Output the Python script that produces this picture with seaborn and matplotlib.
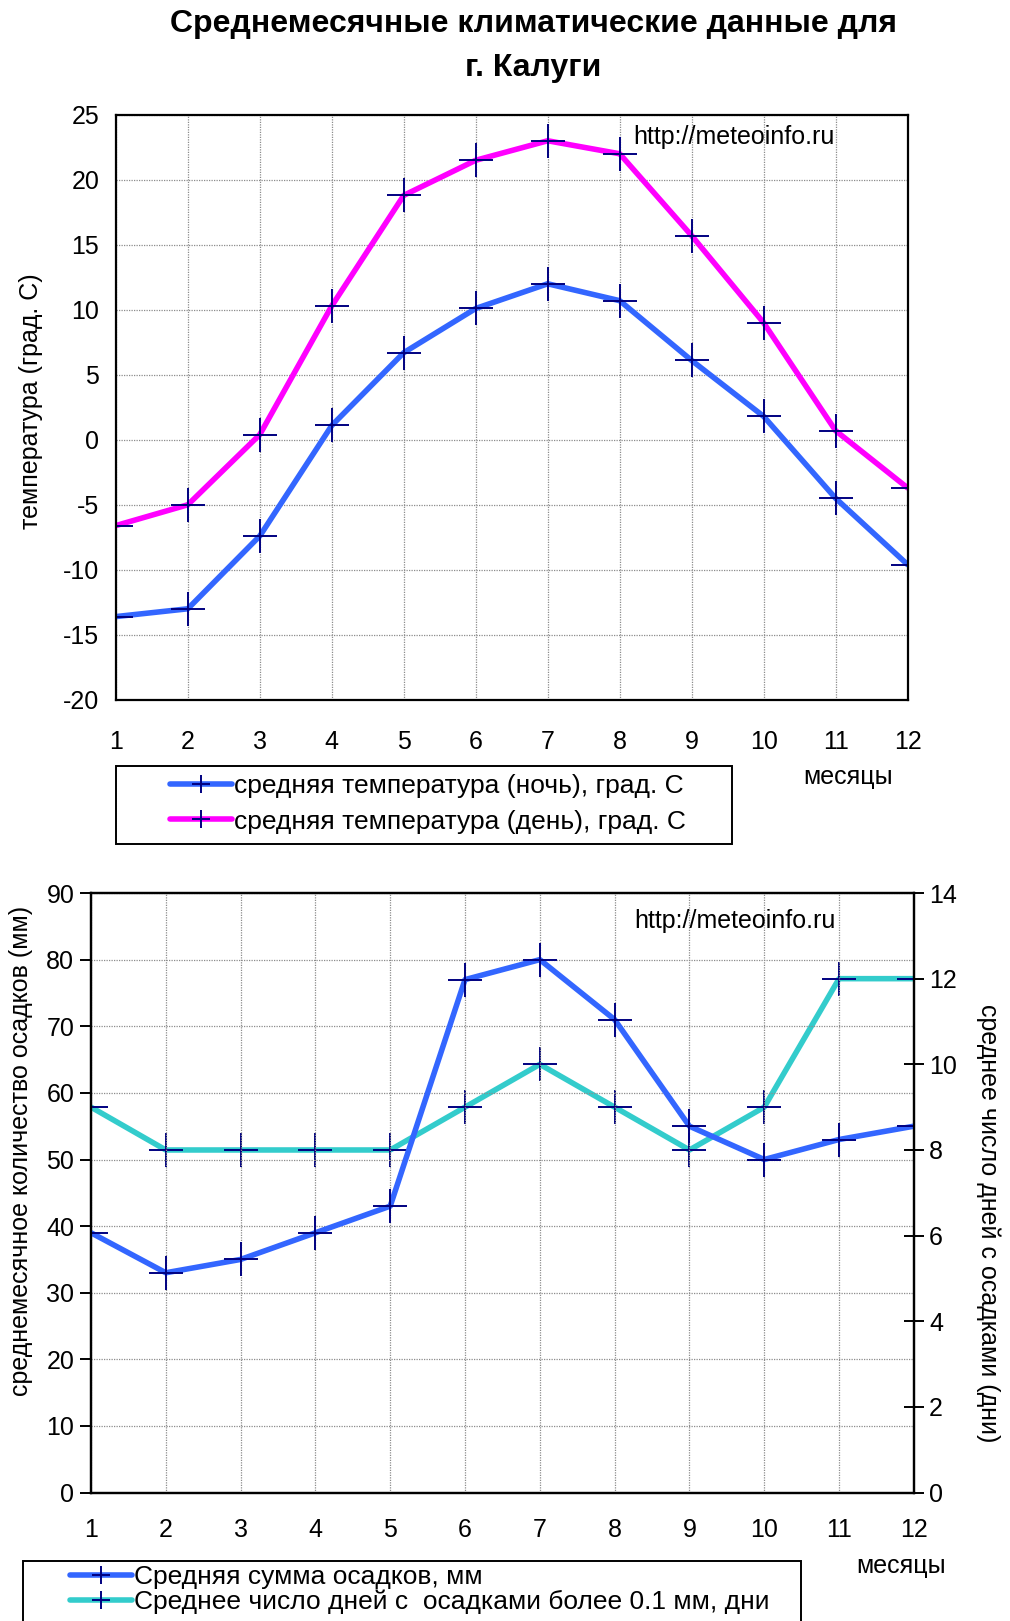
import matplotlib
matplotlib.use("Agg")
import matplotlib.pyplot as plt
from matplotlib.patches import Rectangle
import seaborn as sns
import pandas as pd

# Monthly climate data for Kaluga
months = list(range(1, 13))
temp_night = [-13.6, -13.0, -7.4, 1.1, 6.7, 10.1, 12.0, 10.7, 6.1, 1.8, -4.5, -9.6]
temp_day = [-6.6, -5.0, 0.4, 10.3, 18.8, 21.5, 23.0, 22.0, 15.7, 9.0, 0.7, -3.7]
precip_mm = [39, 33, 35, 39, 43, 77, 80, 71, 55, 50, 53, 55]
precip_days = [9, 8, 8, 8, 8, 9, 10, 9, 8, 9, 12, 12]

temp_ticks = list(range(-20, 26, 5))
precip_ticks = list(range(0, 91, 10))
days_ticks = list(range(0, 15, 2))

title = "Среднемесячные климатические данные для\nг. Калуги"
lbl_night = "средняя температура (ночь), град. С"
lbl_day = "средняя температура (день), град. С"
lbl_mm = "Средняя сумма осадков, мм"
lbl_days = "Среднее число дней с  осадками более 0.1 мм, дни"

sns.set_style("white")
plt.rcParams["font.family"] = ["Liberation Sans", "DejaVu Sans"]
plt.rcParams["axes.linewidth"] = 1.6
plt.rcParams["axes.unicode_minus"] = False
for key in ("text.color", "axes.labelcolor", "xtick.color", "ytick.color",
            "axes.edgecolor"):
    plt.rcParams[key] = "black"

BLUE = "#3366FF"
MAGENTA = "#FF00FF"
TURQ = "#33CCCC"
NAVY = "#000080"
GRID = dict(color="#8c8c8c", linestyle=(0, (1, 1)), linewidth=0.9)
LINE = dict(marker="+", markersize=24, markeredgecolor=NAVY, markeredgewidth=1.4,
            linewidth=4.0)
TICKFS = 18
LEGFS = 19

df = pd.DataFrame({"month": months, "night": temp_night, "day": temp_day,
                   "mm": precip_mm, "days": precip_days})

fig = plt.figure(figsize=(10.10, 16.21), dpi=100)
fig.text(0.528, 0.9945, title, ha="center", va="top", fontsize=23,
         fontweight="bold", linespacing=1.6)


def fig_box(x0, y0, x1, y1):
    """Legend frame given in figure pixel coordinates (origin top-left)."""
    W, H = 1010, 1621
    fig.add_artist(Rectangle((x0 / W, 1 - y1 / H), (x1 - x0) / W, (y1 - y0) / H,
                             transform=fig.transFigure, fill=False,
                             edgecolor="black", linewidth=1.4))


# ---- temperature panel ----
ax1 = fig.add_axes([0.1147, 0.5683, 0.7839, 0.3609])
sns.lineplot(data=df, x="month", y="night", ax=ax1, color=BLUE, **LINE)
sns.lineplot(data=df, x="month", y="day", ax=ax1, color=MAGENTA, **LINE)
ax1.set_xlim(1, 12)
ax1.set_ylim(-20, 25)
ax1.set_xticks(months)
ax1.set_yticks(temp_ticks)
ax1.grid(True, **GRID)
ax1.set_axisbelow(True)
ax1.tick_params(axis="both", direction="out", length=8, width=1.4,
                labelsize=TICKFS)
ax1.tick_params(axis="x", pad=14)
ax1.tick_params(axis="y", pad=4)
ax1.set_xlabel("")
ax1.set_ylabel("температура (град. С)", fontsize=TICKFS, va="center")
ax1.yaxis.set_label_coords(-0.107, 0.51)
ax1.text(0.653, 0.962, "http://meteoinfo.ru", transform=ax1.transAxes,
         ha="left", va="center", fontsize=TICKFS)
h1 = ax1.get_lines()
ax1.legend(h1[:2], [lbl_night, lbl_day], loc="upper left",
           bbox_to_anchor=(170 / 1010, 1 - 774 / 1621),
           bbox_transform=fig.transFigure, fontsize=LEGFS, frameon=False,
           handlelength=2.35, handletextpad=0.08, labelspacing=0.44,
           borderpad=0, borderaxespad=0, markerscale=0.55)
fig_box(116, 766, 732, 844)
fig.text(848 / 1010, 1 - 777 / 1621, "месяцы", ha="center", va="center",
         fontsize=TICKFS)

# ---- precipitation panel ----
ax2 = fig.add_axes([0.0901, 0.0792, 0.8147, 0.3699])
ax3 = ax2.twinx()
sns.lineplot(data=df, x="month", y="days", ax=ax3, color=TURQ, **LINE)
sns.lineplot(data=df, x="month", y="mm", ax=ax2, color=BLUE, **LINE)
ax2.set_zorder(ax3.get_zorder() + 1)
ax2.patch.set_visible(False)
ax3.patch.set_facecolor("white")
ax2.set_xlim(1, 12)
ax2.set_ylim(0, 90)
ax3.set_ylim(0, 14)
ax2.set_xticks(months)
ax2.set_yticks(precip_ticks)
ax3.set_yticks(days_ticks)
ax3.grid(False)
ax2.grid(True, **GRID)
ax2.tick_params(axis="x", direction="inout", length=12, width=1.4,
                labelsize=TICKFS, pad=12)
ax2.tick_params(axis="y", direction="out", length=8, width=1.4,
                labelsize=TICKFS, pad=4)
ax3.tick_params(axis="y", direction="inout", length=14, width=1.4,
                labelsize=TICKFS, pad=4)
ax2.set_xlabel("")
ax2.set_ylabel("среднемесячное количество осадков (мм)", fontsize=TICKFS,
               va="center")
ax2.yaxis.set_label_coords(-0.0855, 0.57)
ax3.set_ylabel("среднее число дней с осадками (дни)", fontsize=TICKFS,
               rotation=-90, va="center")
ax3.yaxis.set_label_coords(1.091, 0.45)
ax2.text(0.66, 0.953, "http://meteoinfo.ru", transform=ax2.transAxes,
         ha="left", va="center", fontsize=TICKFS)
hm = ax2.get_lines()[0]
hd = ax3.get_lines()[0]
ax2.legend([hm, hd], [lbl_mm, lbl_days], loc="upper left",
           bbox_to_anchor=(70 / 1010, 1 - 1565 / 1621),
           bbox_transform=fig.transFigure, fontsize=LEGFS, frameon=False,
           handlelength=2.35, handletextpad=0.08, labelspacing=0.03,
           borderpad=0, borderaxespad=0, markerscale=0.55)
fig_box(23, 1561, 801, 1660)
fig.text(901 / 1010, 1 - 1566 / 1621, "месяцы", ha="center", va="center",
         fontsize=TICKFS)

fig.savefig("out.png", dpi=100, facecolor="white")
